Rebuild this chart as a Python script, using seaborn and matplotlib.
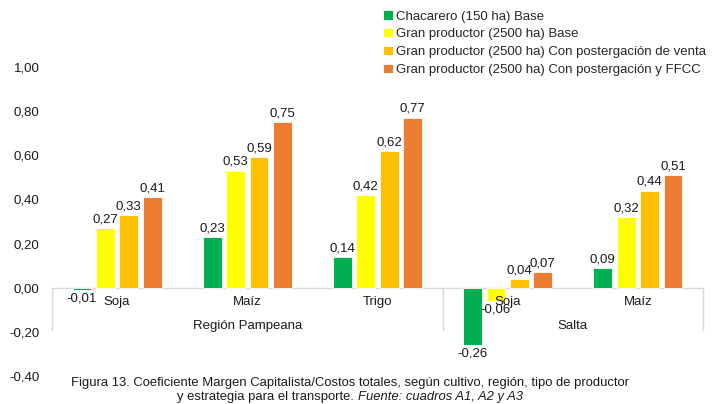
import pandas as pd
import seaborn as sns
import matplotlib.pyplot as plt

# chart values
cultivos = ["Soja", "Maíz", "Trigo", "Soja", "Maíz"]
regiones = ["Región Pampeana", "Región Pampeana", "Región Pampeana", "Salta", "Salta"]
series = ["Chacarero (150 ha) Base",
          "Gran productor (2500 ha) Base",
          "Gran productor (2500 ha) Con postergación de venta",
          "Gran productor (2500 ha) Con postergación y FFCC"]
chacarero_base = [-0.01, 0.23, 0.14, -0.26, 0.09]
gran_base = [0.27, 0.53, 0.42, -0.06, 0.32]
gran_postergacion = [0.33, 0.59, 0.62, 0.04, 0.44]
gran_ffcc = [0.41, 0.75, 0.77, 0.07, 0.51]
colores = ["#00B050", "#FFFF00", "#FFC000", "#ED7D31"]

keys = [f"{r}|{c}" for r, c in zip(regiones, cultivos)]
rows = []
for s, vals in zip(series, [chacarero_base, gran_base, gran_postergacion, gran_ffcc]):
    for k, v in zip(keys, vals):
        rows.append({"cat": k, "serie": s, "valor": v})
df = pd.DataFrame(rows)

sns.set_style("white")
plt.rcParams['font.family'] = ['Liberation Sans', 'DejaVu Sans']

fig = plt.figure(figsize=(7.19, 4.04), dpi=100)
ax = fig.add_axes([52 / 719, 1 - 376 / 404, (703 - 52) / 719, (376 - 67) / 404])

sns.barplot(data=df, x="cat", y="valor", hue="serie", order=keys,
            hue_order=series, palette=colores, saturation=1, width=0.72, gap=0.2,
            edgecolor="#FFFFFF", linewidth=0.6, ax=ax, legend=True)

for cont in ax.containers:
    labels = [f"{b.get_height():.2f}".replace(".", ",") for b in cont]
    ax.bar_label(cont, labels=labels, padding=2, fontsize=9.5, color="#1A1A1A")

ax.set_ylim(-0.4, 1.0)
ax.set_xlim(-0.5, len(keys) - 0.5)
ax.set_yticks([-0.4, -0.2, 0, 0.2, 0.4, 0.6, 0.8, 1.0])
ax.set_yticklabels([f"{t:.2f}".replace(".", ",") for t in ax.get_yticks()])
ax.set_xticks(range(len(keys)))
ax.set_xticklabels(cultivos)
ax.tick_params(axis="both", length=0, labelsize=9.5, colors="#1A1A1A")
ax.tick_params(axis="x", pad=6)
ax.tick_params(axis="y", pad=9)
ax.xaxis.set_zorder(3)
ax.set_xlabel("")
ax.set_ylabel("")
for sp in ["top", "right", "left"]:
    ax.spines[sp].set_visible(False)
ax.spines["bottom"].set_position(("data", 0))
ax.spines["bottom"].set_color("#D9D9D9")
ax.spines["bottom"].set_linewidth(1)
ax.spines["bottom"].set_zorder(0.5)

# group separators of the category axis
for xs in [-0.5, 2.5, len(keys) - 0.5]:
    ax.plot([xs, xs], [0, -0.19], color="#D9D9D9", linewidth=1, clip_on=False)
grupos = ["Región Pampeana", "Salta"]
for g in grupos:
    idx = [i for i, r in enumerate(regiones) if r == g]
    ax.text(sum(idx) / len(idx), -0.172, g, ha="center", va="center",
            fontsize=9.5, color="#1A1A1A", zorder=3)

handles, labs = ax.get_legend_handles_labels()
ax.get_legend().remove()
fig.legend(handles, labs, loc="upper left", bbox_to_anchor=(378 / 719, 1 - 5 / 404),
           frameon=False, fontsize=9.5, handlelength=0.7, handleheight=0.7,
           handletextpad=0.3, labelspacing=0.42, borderaxespad=0)

# caption
fig.text(350 / 719, 1 - 383 / 404,
         "Figura 13. Coeficiente Margen Capitalista/Costos totales, según cultivo, región, tipo de productor",
         ha="center", va="center", fontsize=9.4, color="#1A1A1A")
fig.canvas.draw()
r = fig.canvas.get_renderer()
t1 = fig.text(0, 1 - 397 / 404, "y estrategia para el transporte. ",
              ha="left", va="center", fontsize=9.4, color="#1A1A1A")
t2 = fig.text(0, 1 - 397 / 404, "Fuente: cuadros A1, A2 y A3",
              ha="left", va="center", fontsize=9.4, style="italic", color="#1A1A1A")
w1 = t1.get_window_extent(r).width
w2 = t2.get_window_extent(r).width
x0 = 350 - (w1 + w2) / 2
t1.set_x(x0 / 719)
t2.set_x((x0 + w1) / 719)

fig.savefig("out.png", dpi=100)
